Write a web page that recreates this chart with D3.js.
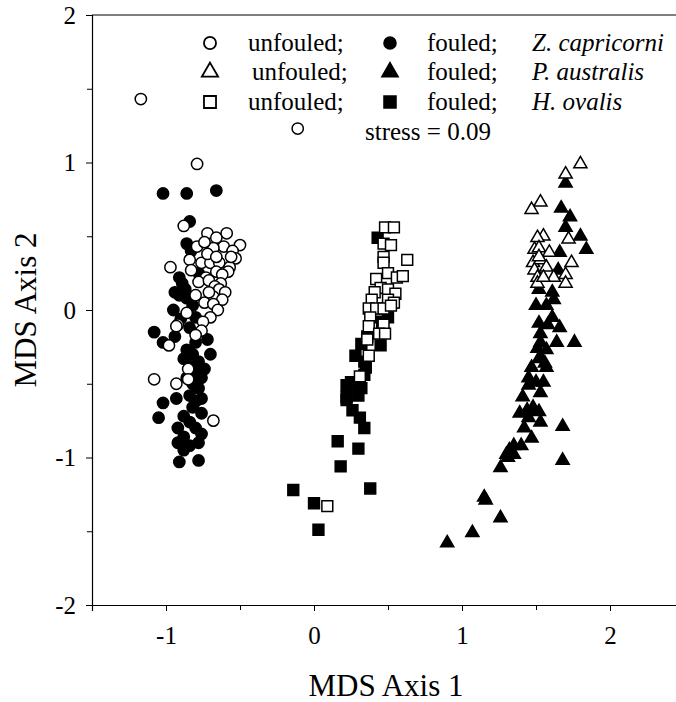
<!DOCTYPE html>
<html>
<head>
<meta charset="utf-8">
<script src="https://cdn.jsdelivr.net/npm/d3@7"></script>
<style>
  body { margin: 0; background: #fff; }
  text { font-family: "Liberation Serif", "Times New Roman", serif; fill: #000; }
</style>
</head>
<body>
<svg id="chart" width="676" height="702"></svg>
<script>
// MDS scores, [axis1, axis2]
var zosteraUnfouled = [[-1.17,1.43],[-0.11,1.23],[-0.79,0.99],[-0.88,0.57],[-0.72,0.52],[-0.59,0.52],
  [-0.66,0.49],[-0.50,0.44],[-0.79,0.43],[-0.61,0.43],[-0.68,0.42],[-0.74,0.46],[-0.55,0.40],[-0.53,0.35],
  [-0.84,0.34],[-0.76,0.32],[-0.70,0.32],[-0.64,0.32],[-0.57,0.29],[-0.97,0.29],[-0.83,0.27],[-0.66,0.26],
  [-0.58,0.26],[-0.62,0.24],[-0.73,0.22],[-0.78,0.19],[-0.71,0.20],[-0.63,0.18],[-0.67,0.16],[-0.64,0.14],
  [-0.60,0.12],[-0.68,0.09],[-0.62,0.07],[-0.74,0.05],[-0.68,0.04],[-0.65,0.00],[-0.86,-0.02],[-0.70,-0.05],
  [-0.75,-0.08],[-0.92,-0.10],[-0.93,-0.11],[-0.76,-0.14],[-0.80,-0.17],[-0.98,-0.24],[-0.85,-0.40],
  [-0.85,-0.47],[-0.93,-0.50],[-1.08,-0.47],[-0.68,-0.75],[-0.72,0.38],[-0.80,0.10],[-0.71,0.12],
  [-0.66,0.36],[-0.56,0.36]];
var zosteraFouled = [[-1.02,0.79],[-0.86,0.79],[-0.66,0.81],[-0.84,0.60],[-0.83,0.40],[-0.91,0.22],
  [-0.89,0.18],[-0.87,0.14],[-0.91,0.10],[-0.86,0.08],[-0.95,0.00],[-0.82,0.03],[-1.08,-0.15],[-1.02,-0.22],
  [-0.90,-0.06],[-0.84,-0.12],[-0.80,-0.22],[-0.86,-0.27],[-0.88,-0.33],[-0.82,-0.30],[-0.78,-0.35],
  [-0.84,-0.38],[-0.80,-0.42],[-0.76,-0.46],[-0.82,-0.50],[-0.78,-0.53],[-0.93,-0.60],[-0.84,-0.58],
  [-0.80,-0.62],[-0.76,-0.60],[-1.02,-0.63],[-1.05,-0.73],[-0.88,-0.72],[-0.84,-0.76],[-0.92,-0.80],
  [-0.80,-0.80],[-0.88,-0.86],[-0.76,-0.84],[-0.92,-0.90],[-0.84,-0.92],[-0.78,-0.90],[-0.91,-1.03],
  [-0.78,-1.02],[-0.72,-0.20],[-0.70,-0.30],[-0.74,-0.40],[-0.86,0.45],[-0.78,0.25],[-0.80,-0.05],
  [-0.94,0.12],[-0.76,-0.70],[-0.88,-0.95],[-0.82,-0.66],[-0.86,-0.46],[-0.94,-0.18]];

var posidoniaUnfouled = [[1.80,0.99],[1.70,0.92],[1.53,0.73],[1.47,0.68],[1.72,0.48],[1.55,0.50],[1.51,0.49],
  [1.49,0.41],[1.52,0.42],[1.59,0.39],[1.74,0.32],[1.48,0.32],[1.53,0.34],[1.49,0.27],[1.57,0.29],[1.62,0.22],
  [1.70,0.24],[1.51,0.22],[1.70,0.18],[1.51,0.18],[1.55,0.22],[1.52,0.36]];
var posidoniaFouled = [[1.70,0.86],[1.67,0.69],[1.73,0.63],[1.70,0.56],[1.80,0.50],[1.84,0.41],[1.66,0.39],
  [1.65,0.27],[1.52,0.14],[1.61,0.12],[1.62,0.07],[1.50,0.03],[1.57,0.03],[1.61,-0.05],[1.52,-0.09],
  [1.58,-0.10],[1.66,-0.12],[1.53,-0.16],[1.64,-0.22],[1.76,-0.22],[1.53,-0.22],[1.51,-0.26],[1.57,-0.27],
  [1.53,-0.32],[1.52,-0.33],[1.47,-0.39],[1.57,-0.39],[1.56,-0.36],[1.45,-0.46],[1.50,-0.49],[1.55,-0.49],
  [1.45,-0.51],[1.53,-0.56],[1.41,-0.59],[1.39,-0.70],[1.44,-0.68],[1.48,-0.66],[1.52,-0.69],[1.45,-0.73],
  [1.53,-0.76],[1.42,-0.80],[1.68,-0.79],[1.47,-0.87],[1.40,-0.92],[1.35,-0.92],[1.32,-0.95],[1.35,-0.98],
  [1.30,-0.98],[1.31,-1.00],[1.68,-1.02],[1.26,-1.07],[1.15,-1.27],[1.16,-1.29],[1.26,-1.41],[1.07,-1.51],
  [0.90,-1.58]];

var halophilaUnfouled = [[0.48,0.56],[0.54,0.56],[0.47,0.45],[0.52,0.44],[0.47,0.36],[0.63,0.34],[0.47,0.32],
  [0.50,0.25],[0.56,0.22],[0.42,0.21],[0.60,0.23],[0.45,0.15],[0.50,0.14],[0.55,0.11],[0.41,0.12],[0.39,0.07],
  [0.50,0.07],[0.54,0.05],[0.37,0.01],[0.42,0.01],[0.47,0.01],[0.52,0.03],[0.38,-0.05],[0.47,-0.10],
  [0.37,-0.11],[0.44,-0.16],[0.48,-0.16],[0.36,-0.20],[0.37,-0.31],[0.31,-0.45],[0.09,-1.33]];
var halophilaFouled = [[0.43,0.49],[0.53,0.05],[0.50,-0.05],[0.46,-0.08],[0.32,-0.23],[0.45,-0.24],
  [0.36,-0.18],[0.28,-0.31],[0.34,-0.35],[0.35,-0.39],[0.34,-0.44],[0.25,-0.49],[0.22,-0.51],[0.30,-0.53],
  [0.22,-0.59],[0.32,-0.53],[0.30,-0.58],[0.22,-0.61],[0.26,-0.68],[0.31,-0.73],[0.34,-0.80],[0.16,-0.89],
  [0.30,-0.94],[0.18,-1.06],[-0.14,-1.22],[0.00,-1.31],[0.38,-1.21],[0.03,-1.49]];

var xTicks = [-1, 0, 1, 2];
var xMinor = [-0.5, 0.5, 1.5];
var yTicks = [-2, -1, 0, 1, 2];
var yMinor = [-1.5, -0.5, 0.5, 1.5];
var speciesNames = ["Z. capricorni", "P. australis", "H. ovalis"];

var svg = d3.select("#chart");

var x = d3.scaleLinear().domain([-1.5, 2.5]).range([92, 684]);
var y = d3.scaleLinear().domain([-2, 2]).range([605, 15]);

// frame top line
svg.append("line")
    .attr("x1", x(-1.5)).attr("x2", 676)
    .attr("y1", y(2)).attr("y2", y(2))
    .attr("stroke", "#000").attr("stroke-width", 1.2);

svg.append("g")
    .attr("transform", "translate(0," + y(-2) + ")")
    .call(d3.axisBottom(x).tickValues(xTicks).tickSize(6).tickPadding(15)
      .tickFormat(function(d) { return String(d); }));
svg.append("g")
    .attr("transform", "translate(0," + y(-2) + ")")
    .call(d3.axisBottom(x).tickValues(xMinor).tickSize(5).tickFormat(""))
    .select(".domain").remove();

svg.append("g")
    .attr("transform", "translate(" + x(-1.5) + ",0)")
    .call(d3.axisLeft(y).tickValues(yTicks).tickSize(6).tickPadding(10)
      .tickFormat(function(d) { return String(d); }));
svg.append("g")
    .attr("transform", "translate(" + x(-1.5) + ",0)")
    .call(d3.axisLeft(y).tickValues(yMinor).tickSize(5).tickFormat(""))
    .select(".domain").remove();

svg.selectAll(".domain").attr("stroke-width", 1.2);
svg.selectAll(".tick text")
    .style("font-family", '"Liberation Serif", serif')
    .style("font-size", "25px");

svg.append("text")
    .attr("x", 386).attr("y", 696)
    .attr("text-anchor", "middle")
    .style("font-size", "31px")
    .text("MDS Axis 1");

svg.append("text")
    .attr("transform", "translate(36,310) rotate(-90)")
    .attr("text-anchor", "middle")
    .style("font-size", "31px")
    .text("MDS Axis 2");

// marker shapes
var circleSym = d3.symbol().type(d3.symbolCircle).size(100);
var squareSym = d3.symbol().type(d3.symbolSquare).size(118);
var triSym = d3.symbol().type(d3.symbolTriangle).size(75);

function plot(data, sym, filled) {
  svg.append("g").selectAll("path")
    .data(data).enter()
    .append("path")
    .attr("d", sym)
    .attr("transform", function(d) { return "translate(" + x(d[0]) + "," + y(d[1]) + ")"; })
    .attr("fill", filled ? "#000" : "#fff")
    .attr("stroke", "#000")
    .attr("stroke-width", 1.5);
}

plot(zosteraFouled, circleSym, true);
plot(zosteraUnfouled, circleSym, false);
plot(halophilaFouled, squareSym, true);
plot(halophilaUnfouled, squareSym, false);
plot(posidoniaFouled, triSym, true);
plot(posidoniaUnfouled, triSym, false);

// legend
var legendRows = [43, 72, 102];
var legendSyms = [d3.symbol().type(d3.symbolCircle).size(115),
                  d3.symbol().type(d3.symbolTriangle).size(115),
                  d3.symbol().type(d3.symbolSquare).size(145)];
var legend = svg.append("g");
legendRows.forEach(function(ly, i) {
  legend.append("path").attr("d", legendSyms[i])
    .attr("transform", "translate(210," + ly + ")")
    .attr("fill", "#fff").attr("stroke", "#000").attr("stroke-width", 1.8);
  legend.append("path").attr("d", legendSyms[i])
    .attr("transform", "translate(390," + ly + ")")
    .attr("fill", "#000").attr("stroke", "#000").attr("stroke-width", 1.5);
  legend.append("text").attr("x", i == 1 ? 252 : 248).attr("y", ly + 8)
    .style("font-size", "25px").text("unfouled;");
  legend.append("text").attr("x", 427).attr("y", ly + 8)
    .style("font-size", "25px").text("fouled;");
  legend.append("text").attr("x", 532).attr("y", ly + 8)
    .style("font-size", "25px").style("font-style", "italic").text(speciesNames[i]);
});
legend.append("text").attr("x", 365).attr("y", 140)
  .style("font-size", "25px").text("stress = 0.09");
</script>
</body>
</html>
